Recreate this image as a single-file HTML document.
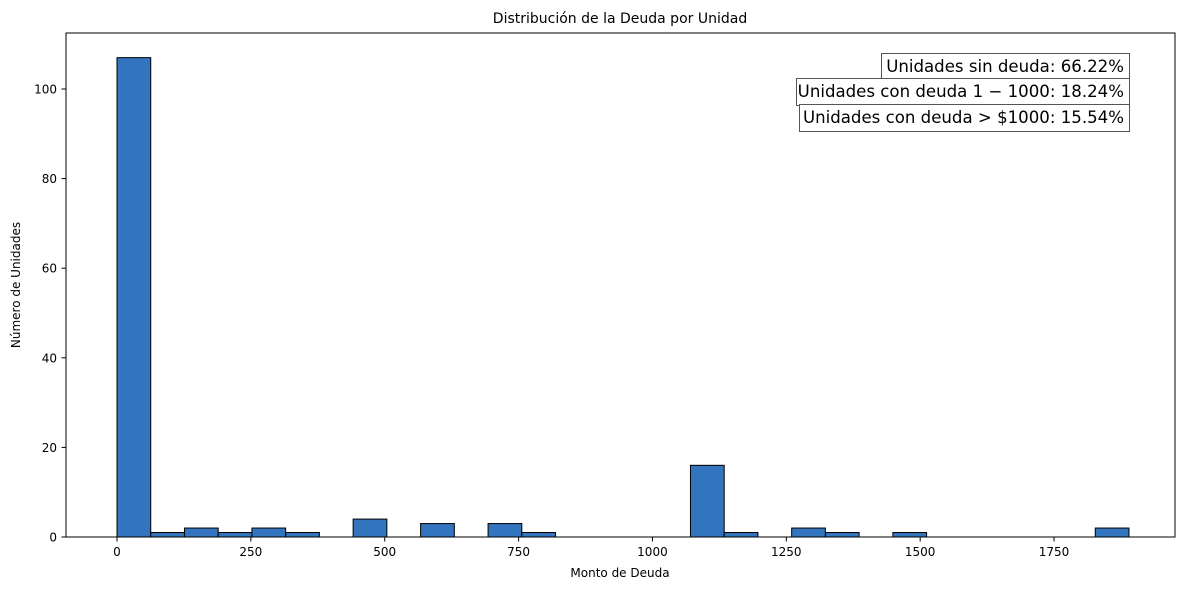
<!DOCTYPE html>
<html><head><meta charset="utf-8"><style>
body{margin:0;background:#fff;font-family:"DejaVu Sans","Liberation Sans",sans-serif}
svg text{font-family:"DejaVu Sans","Liberation Sans",sans-serif}
</style></head><body>
<svg id="c" width="1189" height="590" xmlns="http://www.w3.org/2000/svg">
<rect width="1189" height="590" fill="#fff"/>
<text x="620" y="23" font-size="14" text-anchor="middle">Distribución de la Deuda por Unidad</text>
<g id="bars"></g>
<g id="axes"></g>
<rect x="66" y="33" width="1109" height="504" fill="none" stroke="#000" stroke-width="1"/>
<text x="620" y="577" font-size="12" text-anchor="middle">Monto de Deuda</text>
<text transform="translate(20,285) rotate(-90)" font-size="12" text-anchor="middle">Número de Unidades</text>
<g font-size="16.6" text-anchor="end">
<rect x="881.5" y="53.5" width="248" height="27" fill="#fff" stroke="#555"/>
<text x="1124" y="72">Unidades sin deuda: 66.22%</text>
<rect x="796.5" y="78.5" width="333" height="27" fill="#fff" stroke="#555"/>
<text x="1124" y="97">Unidades con deuda 1 − 1000: 18.24%</text>
<rect x="799.5" y="104.5" width="330" height="27" fill="#fff" stroke="#555"/>
<text x="1124" y="123">Unidades con deuda &gt; $1000: 15.54%</text>
</g>
</svg>
<script>
const binStart = 0;
const binWidth = 63;
const counts = [107,1,2,1,2,1,0,4,0,3,0,3,1,0,0,0,0,16,1,0,2,1,0,1,0,0,0,0,0,2];
const xTicks = [0,250,500,750,1000,1250,1500,1750];
const yTicks = [0,20,40,60,80,100];
const NS = "http://www.w3.org/2000/svg";
const xs = v => 117 + v * (1012 / 1890);
const ys = v => 537 - v * 4.48;
const bars = document.getElementById('bars');
counts.forEach((c, i) => {
  const r = document.createElementNS(NS, 'rect');
  const x0 = xs(binStart + i * binWidth), x1 = xs(binStart + (i + 1) * binWidth);
  r.setAttribute('x', x0); r.setAttribute('width', x1 - x0);
  r.setAttribute('y', ys(c)); r.setAttribute('height', ys(0) - ys(c));
  r.setAttribute('fill', '#3274bd'); r.setAttribute('stroke', '#000'); r.setAttribute('stroke-width', '1');
  
  
  bars.appendChild(r);
});
const axes = document.getElementById('axes');
xTicks.forEach(t => {
  const l = document.createElementNS(NS, 'line');
  l.setAttribute('x1', xs(t)); l.setAttribute('x2', xs(t)); l.setAttribute('y1', 537); l.setAttribute('y2', 541.5);
  l.setAttribute('stroke', '#000');
  
  
  axes.appendChild(l);
  const tx = document.createElementNS(NS, 'text');
  tx.setAttribute('x', xs(t)); tx.setAttribute('y', 556); tx.setAttribute('font-size', '12'); tx.setAttribute('text-anchor', 'middle');
  tx.textContent = t;
  
  
  axes.appendChild(tx);
});
yTicks.forEach(t => {
  const l = document.createElementNS(NS, 'line');
  l.setAttribute('x1', 61.5); l.setAttribute('x2', 66); l.setAttribute('y1', ys(t)); l.setAttribute('y2', ys(t));
  l.setAttribute('stroke', '#000');
  
  
  axes.appendChild(l);
  const tx = document.createElementNS(NS, 'text');
  tx.setAttribute('x', 57); tx.setAttribute('y', ys(t) + 4.5); tx.setAttribute('font-size', '12'); tx.setAttribute('text-anchor', 'end');
  tx.textContent = t;
  
  
  axes.appendChild(tx);
});
</script>
</body></html>
